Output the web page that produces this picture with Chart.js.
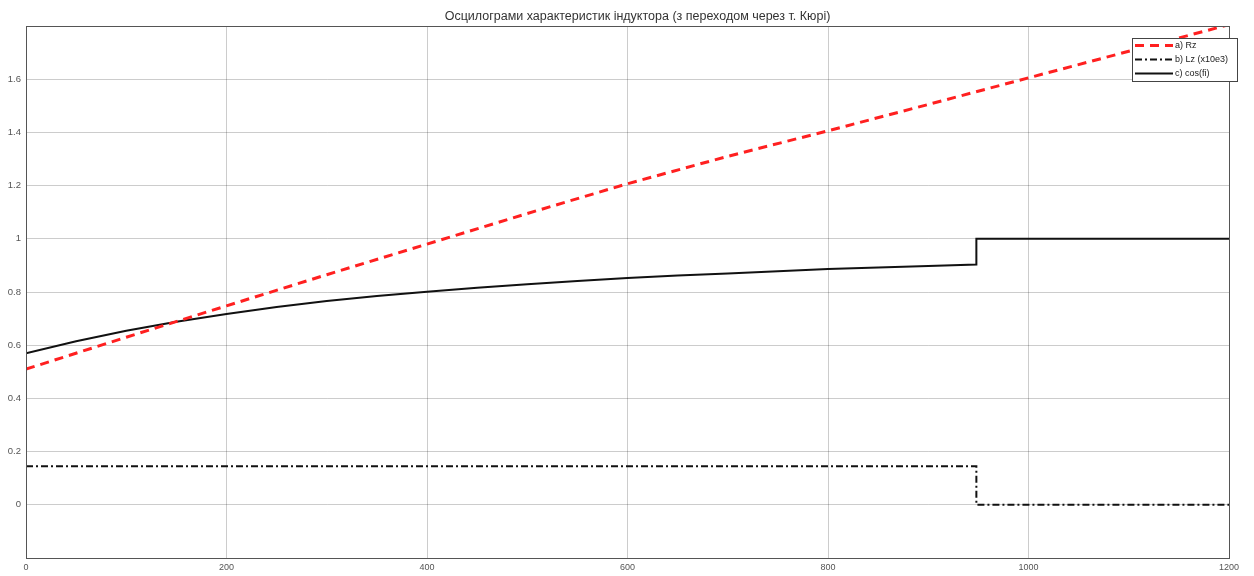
<!DOCTYPE html>
<html>
<head>
<meta charset="utf-8">
<script src="https://cdn.jsdelivr.net/npm/chart.js@4/dist/chart.umd.min.js"></script>
<style>
  html, body { margin: 0; padding: 0; background: #fff; }
  #wrap { width: 1254px; height: 576px; }
</style>
</head>
<body>
<div id="wrap"><canvas id="chart"></canvas></div>
<script>
// Rz, nearly linear growth
const rzX = [0, 100, 200, 300, 400, 500, 600, 700, 800, 900, 1000, 1100, 1200];
const rzY = [0.51, 0.63, 0.748, 0.865, 0.98, 1.095, 1.207, 1.31, 1.406, 1.505, 1.605, 1.705, 1.805];

// Lz (x10e3), drops to zero at the Curie point
const lzX = [0, 948, 948, 1200];
const lzY = [0.145, 0.145, 0, 0];

// cos(fi), jumps to 1 at the Curie point
const cosX = [0, 50, 100, 150, 200, 250, 300, 350, 400, 450, 500, 550, 600, 650, 700, 750, 800, 850, 900, 948, 948, 1200];
const cosY = [0.570, 0.615, 0.654, 0.688, 0.717, 0.744, 0.766, 0.785, 0.801, 0.816, 0.829, 0.841, 0.853,
              0.862, 0.870, 0.878, 0.886, 0.892, 0.898, 0.903, 1.0, 1.0];

const seriesNames = ['a) Rz', 'b) Lz (x10e3)', 'c) cos(fi)'];
const titleText = 'Осцилограми характеристик індуктора (з переходом через т. Кюрі)';

const xTicks = [0, 200, 400, 600, 800, 1000, 1200];
const yTicks = [0, 0.2, 0.4, 0.6, 0.8, 1, 1.2, 1.4, 1.6];

function pts(xs, ys) {
    return xs.map((x, i) => ({ x: x, y: ys[i] }));
}

const styles = [
    { color: '#ff2020', width: 3, dash: [9, 6] },
    { color: '#111111', width: 2, dash: [7, 3, 2, 3] },
    { color: '#111111', width: 2, dash: [] }
];

// title over the plot area, frame around it, and the legend box in the top right corner
const framePlugin = {
    id: 'frame',
    afterDraw(chart) {
        const ctx = chart.ctx;
        const a = chart.chartArea;
        ctx.save();
        ctx.fillStyle = '#333';
        ctx.font = '12.5px "Liberation Sans", Arial, sans-serif';
        ctx.textAlign = 'center';
        ctx.textBaseline = 'middle';
        ctx.fillText(titleText, (a.left + a.right) / 2 + 10, 17);

        ctx.strokeStyle = '#555';
        ctx.lineWidth = 1;
        ctx.strokeRect(a.left + 0.5, a.top + 0.5, a.right - a.left, a.bottom - a.top);

        const bx = 1132, by = 38, bw = 105, bh = 43;
        ctx.fillStyle = '#fff';
        ctx.fillRect(bx, by, bw, bh);
        ctx.strokeStyle = '#444';
        ctx.strokeRect(bx + 0.5, by + 0.5, bw, bh);
        ctx.font = '9px "Liberation Sans", Arial, sans-serif';
        ctx.textAlign = 'left';
        seriesNames.forEach((name, i) => {
            const y = 45.5 + i * 14;
            const s = styles[i];
            ctx.strokeStyle = s.color;
            ctx.lineWidth = s.width;
            ctx.setLineDash(s.dash);
            ctx.beginPath();
            ctx.moveTo(1135, y);
            ctx.lineTo(1173, y);
            ctx.stroke();
            ctx.setLineDash([]);
            ctx.fillStyle = '#222';
            ctx.fillText(name, 1175, y);
        });
        ctx.restore();
    }
};

const ctx = document.getElementById('chart').getContext('2d');
new Chart(ctx, {
    type: 'scatter',
    data: {
        datasets: [
            { label: seriesNames[0], data: pts(rzX, rzY) },
            { label: seriesNames[1], data: pts(lzX, lzY) },
            { label: seriesNames[2], data: pts(cosX, cosY) }
        ].map((d, i) => Object.assign(d, {
            showLine: true,
            borderColor: styles[i].color,
            borderWidth: styles[i].width,
            borderDash: styles[i].dash,
            pointRadius: 0,
            tension: 0,
            fill: false
        }))
    },
    options: {
        responsive: true,
        maintainAspectRatio: false,
        animation: false,
        layout: { padding: { left: 0, right: 25, top: 26, bottom: 0 } },
        plugins: {
            legend: { display: false },
            tooltip: { enabled: false },
            title: { display: false }
        },
        scales: {
            x: {
                type: 'linear',
                min: 0,
                max: 1200,
                afterBuildTicks(scale) {
                    scale.ticks = xTicks.map(v => ({ value: v }));
                },
                afterFit(scale) { scale.height = 18; },
                ticks: {
                    color: '#555',
                    padding: 4,
                    maxRotation: 0,
                    font: { family: '"Liberation Sans", Arial, sans-serif', size: 9 },
                    callback: v => String(v)
                },
                grid: { color: 'rgba(0,0,0,0.2)', tickLength: 0 },
                border: { color: '#555' }
            },
            y: {
                type: 'linear',
                min: -0.2,
                max: 1.8,
                afterBuildTicks(scale) {
                    scale.ticks = yTicks.map(v => ({ value: v }));
                },
                afterFit(scale) { scale.width = 26; },
                ticks: {
                    color: '#555',
                    padding: 5,
                    font: { family: '"Liberation Sans", Arial, sans-serif', size: 9.5 },
                    callback: v => String(Number(v.toFixed(1)))
                },
                grid: { color: 'rgba(0,0,0,0.2)', tickLength: 0 },
                border: { color: '#555' }
            }
        }
    },
    plugins: [framePlugin]
});
</script>
</body>
</html>
